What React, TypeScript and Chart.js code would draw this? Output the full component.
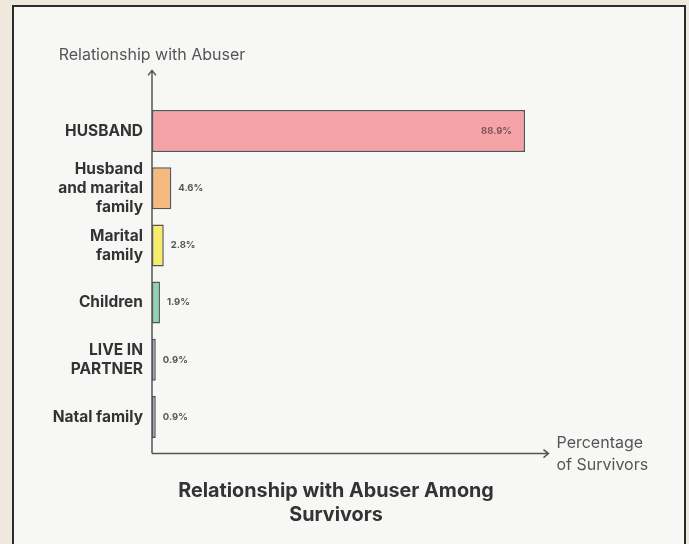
import React, { useEffect, useRef } from "react";
import { Chart, registerables } from "chart.js";

Chart.register(...registerables);

const categories: string[][] = [
  ["HUSBAND"],
  ["Husband", "and marital", "family"],
  ["Marital", "family"],
  ["Children"],
  ["LIVE IN", "PARTNER"],
  ["Natal family"],
];
const values: number[] = [88.9, 4.6, 2.8, 1.9, 0.9, 0.9];
const barColors: string[] = ["#f6a3a8", "#f6b97e", "#f8ec6c", "#8fd2b3", "#9ea2d2", "#9ea2d2"];
const yAxisTitle = "Relationship with Abuser";
const xAxisTitle = ["Percentage", "of Survivors"];
const chartTitle = ["Relationship with Abuser Among", "Survivors"];
const AXIS_MAX = 94.5;

const FONT = "Inter, Roboto, 'Noto Sans', sans-serif";

const decorPlugin = {
  id: "decor",
  afterDatasetsDraw(chart: any) {
    const ctx = chart.ctx as CanvasRenderingContext2D;
    const { left, right, top, bottom } = chart.chartArea;
    const axisY = bottom + 8;
    ctx.save();
    // axes
    ctx.strokeStyle = "#555";
    ctx.lineWidth = 1.5;
    ctx.beginPath();
    ctx.moveTo(left, axisY);
    ctx.lineTo(left, top - 32);
    ctx.moveTo(left - 4, top - 27);
    ctx.lineTo(left, top - 32);
    ctx.lineTo(left + 4, top - 27);
    ctx.moveTo(left, axisY);
    ctx.lineTo(right, axisY);
    ctx.moveTo(right - 5, axisY - 4);
    ctx.lineTo(right, axisY);
    ctx.lineTo(right - 5, axisY + 4);
    ctx.stroke();

    // axis titles
    ctx.fillStyle = "#555";
    ctx.font = `16px ${FONT}`;
    ctx.textBaseline = "middle";
    ctx.textAlign = "center";
    ctx.fillText(yAxisTitle, left, top - 47);
    ctx.textAlign = "left";
    ctx.fillText(xAxisTitle[0], right + 8, axisY - 10);
    ctx.fillText(xAxisTitle[1], right + 8, axisY + 12);

    // title
    ctx.fillStyle = "#333";
    ctx.font = `bold 19.8px ${FONT}`;
    ctx.textAlign = "center";
    const cx = 336;
    chartTitle.forEach((line, i) => ctx.fillText(line, cx, axisY + 37 + i * 24));

    // value labels
    const meta = chart.getDatasetMeta(0);
    ctx.font = `bold 9.5px ${FONT}`;
    meta.data.forEach((bar: any, i: number) => {
      const v = values[i];
      const txt = `${v.toFixed(1)}%`;
      if (v > 50) {
        ctx.fillStyle = "#7a5458";
        ctx.textAlign = "right";
        ctx.fillText(txt, bar.x - 13, bar.y);
      } else {
        ctx.fillStyle = "#555";
        ctx.textAlign = "left";
        ctx.fillText(txt, bar.x + 7, bar.y);
      }
    });
    ctx.restore();
  },
};

export default function App() {
  const ref = useRef<HTMLCanvasElement | null>(null);
  useEffect(() => {
    if (!ref.current) return;
    const chart = new Chart(ref.current, {
      type: "bar",
      data: {
        labels: categories,
        datasets: [
          {
            data: values,
            backgroundColor: barColors,
            borderColor: "#555",
            borderWidth: 1.5,
            borderSkipped: false,
            categoryPercentage: 1,
            barPercentage: 0.735,
          },
        ],
      },
      options: {
        indexAxis: "y",
        responsive: false,
        animation: false,
        devicePixelRatio: 1,
        layout: { padding: { left: 0, right: 140.5, top: 102.4, bottom: 98.4 } },
        plugins: {
          legend: { display: false },
          tooltip: { enabled: false },
          title: { display: false },
        },
        scales: {
          x: { display: false, min: 0, max: AXIS_MAX },
          y: {
            afterFit: (scale: any) => {
              scale.width = 152;
            },
            grid: { display: false, drawTicks: false },
            border: { display: false },
            ticks: {
              autoSkip: false,
              padding: 9,
              color: "#333",
              font: { family: FONT, size: 15.5, weight: "bold", lineHeight: 1.23 },
            },
          },
        },
      },
      plugins: [decorPlugin],
    } as any);
    return () => chart.destroy();
  }, []);

  return (
    <div style={{ position: "fixed", left: 0, top: 0, width: 689, height: 544, background: "#efe9dd", overflow: "hidden" }}>
      <div
        style={{
          position: "absolute",
          left: 12,
          top: 5,
          width: 670,
          height: 560,
          border: "2px solid #2b2b2b",
          background: "#f7f7f6",
        }}
      />
      <canvas ref={ref} width={689} height={544} style={{ position: "absolute", left: 0, top: 0 }} />
    </div>
  );
}
